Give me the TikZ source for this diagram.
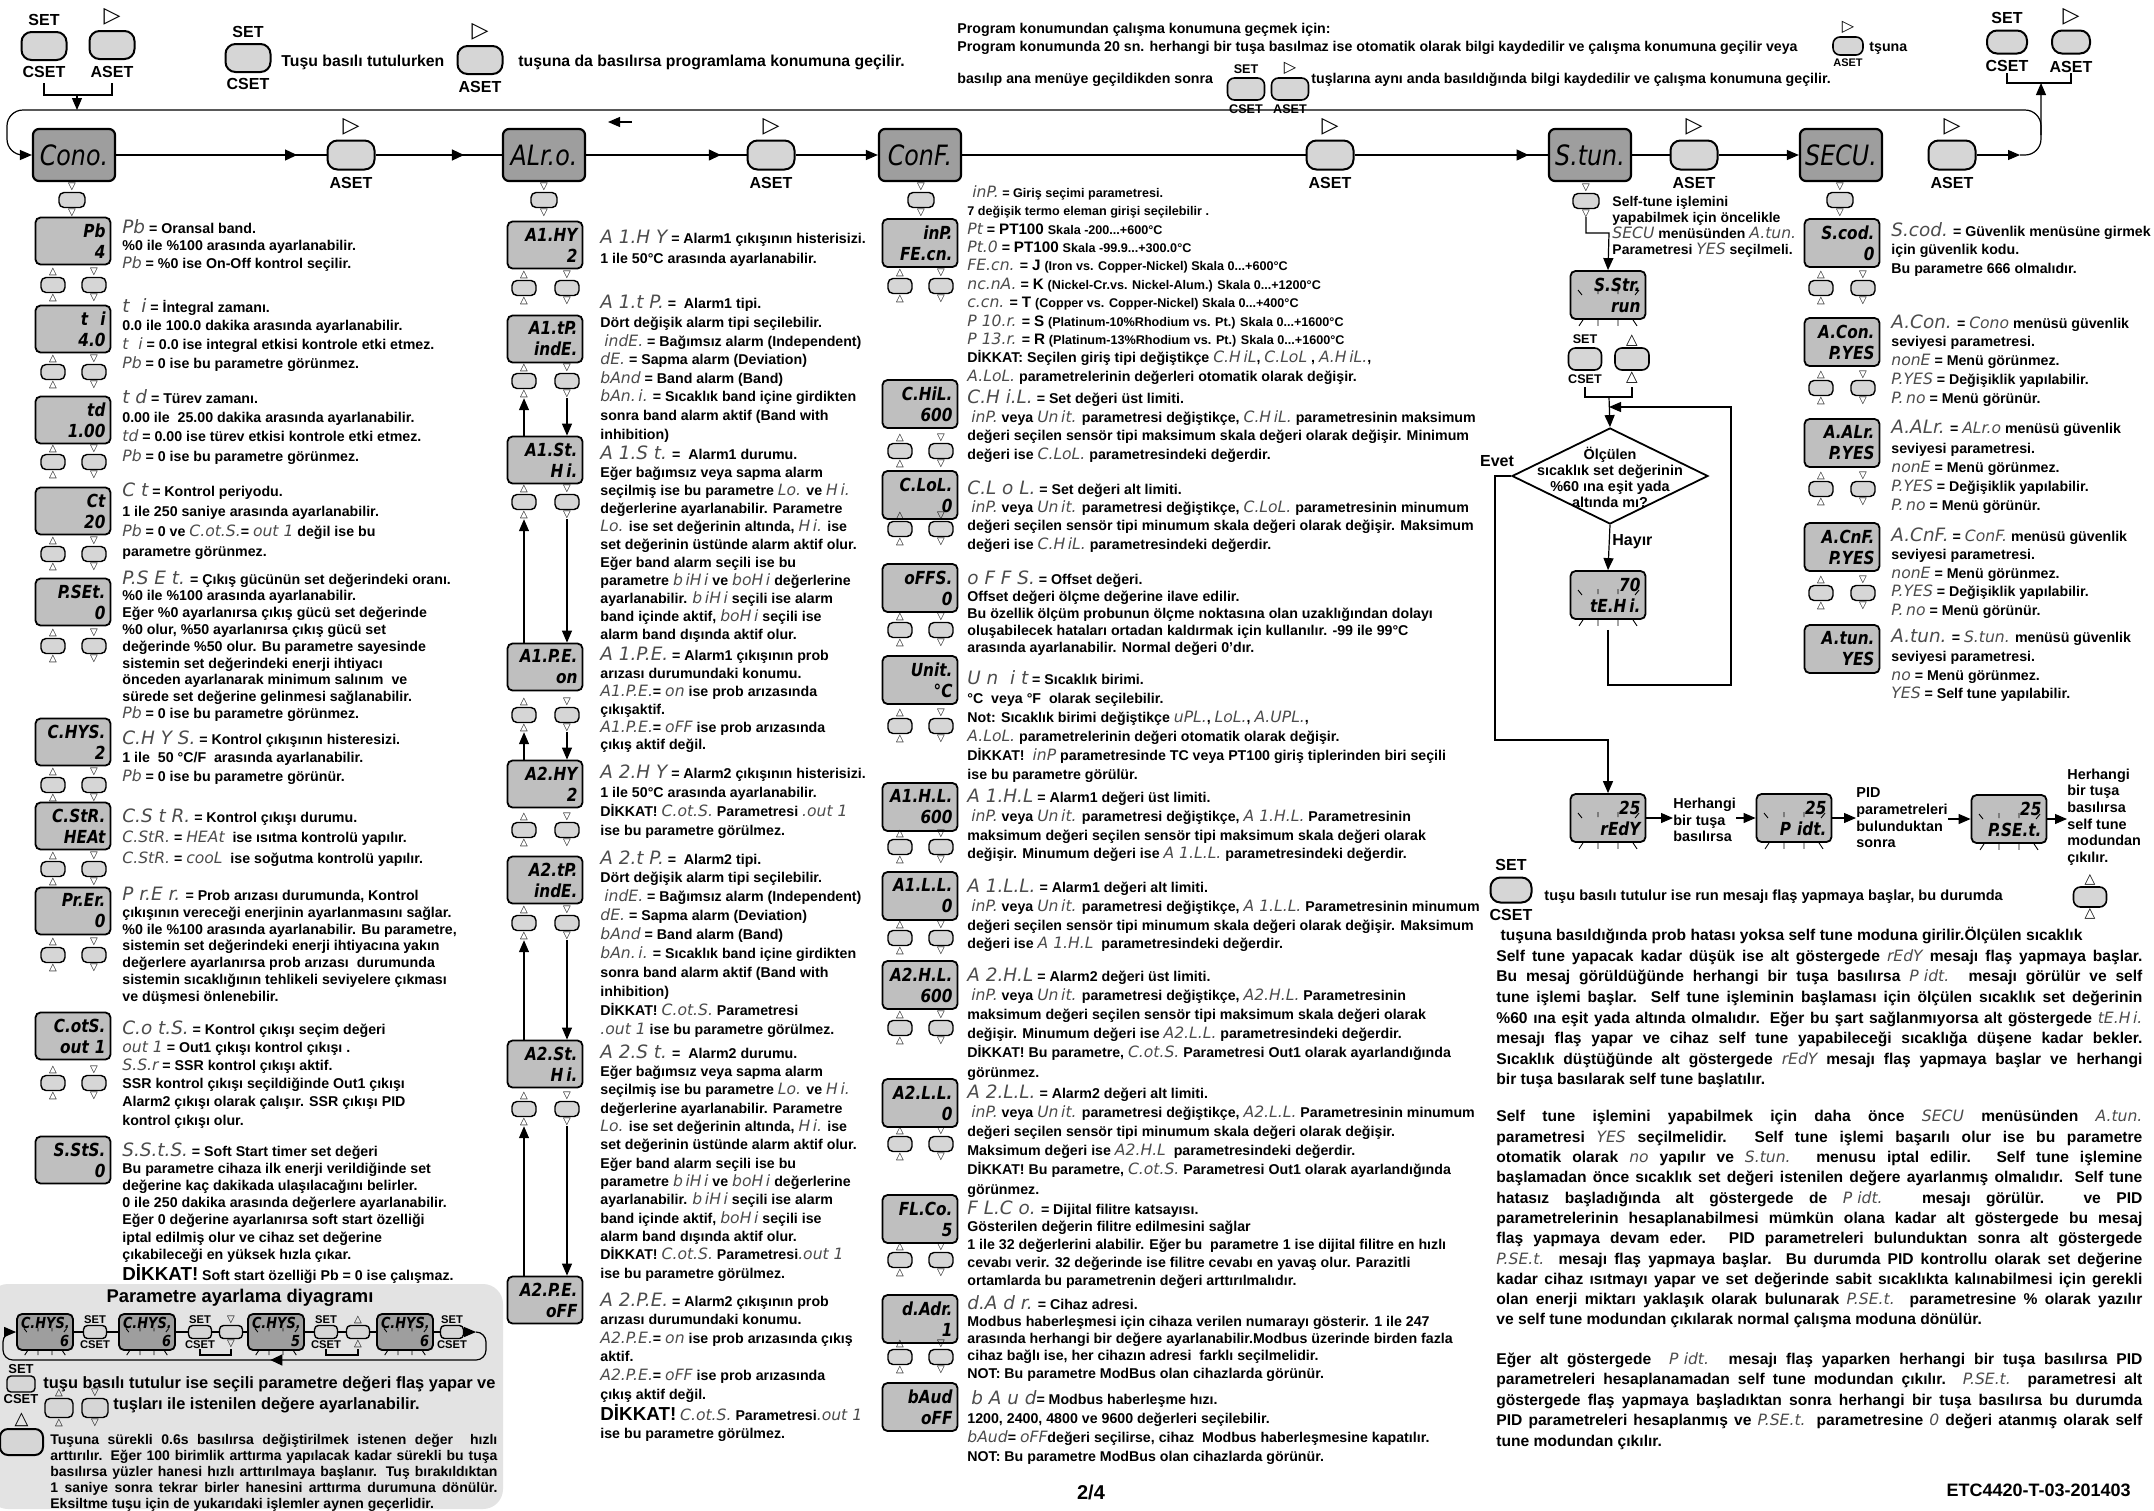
\documentclass[tikz,border=0pt]{standalone}
\usepackage{fontspec}
\setmainfont{Liberation Sans}
\newfontfamily\segfont{DejaVu Sans}
\newfontfamily\dispfont{DejaVu Sans}[FakeStretch=0.85]
\newfontfamily\symfont{DejaVu Sans}
\usetikzlibrary{arrows.meta,shapes.geometric,calc,decorations.markings}

\definecolor{menugray}{gray}{0.62}
\definecolor{dispgray}{gray}{0.75}
\definecolor{keygray}{gray}{0.84}
\definecolor{panelgray}{gray}{0.89}
\definecolor{segcol}{gray}{0.3}

% segment texts
\newcommand{\sg}[1]{{\segfont\mdseries\itshape\color{segcol}\fontsize{7.8}{8}\selectfont #1}}
\newcommand{\sgt}[1]{{\segfont\mdseries\itshape\color{segcol}\fontsize{9.2}{8}\selectfont #1}}
\newcommand{\DK}{{\fontsize{9.4}{8}\selectfont DİKKAT!}}
\newcommand{\sm}{\fontsize{6.3}{8}\selectfont}
\newcommand{\bg}{\fontsize{7.6}{8}\selectfont}
\newcommand{\jl}[1]{\makebox[323pt][s]{#1}}
\newcommand{\jp}[1]{\makebox[223.5pt][s]{#1}}
% flashing ticks round a display
\newcommand{\flash}[2]{%
  \draw[line width=0.45pt]
    ($(#1.center)+(-30*#2,-5*#2)$) -- ++(4*#2,5*#2)
    ($(#1.center)+(-10*#2,-6*#2)$) -- ++(0,5*#2)
    ($(#1.center)+(10*#2,-6*#2)$) -- ++(0,5*#2)
    ($(#1.center)+(31*#2,-5*#2)$) -- ++(-4*#2,5*#2)
    ($(#1.south)+(-25*#2,0)$) -- ++(-4*#2,6*#2)
    ($(#1.south)+(-10*#2,0)$) -- ++(0,6*#2)
    ($(#1.south)+(10*#2,0)$) -- ++(0,6*#2)
    ($(#1.south)+(25*#2,0)$) -- ++(4*#2,6*#2);}

\tikzset{
  flow/.style={line width=0.6pt},
  arr/.style={line width=0.6pt, -{Triangle[length=6pt,width=5pt]}},
  midarr/.style={postaction={decorate}, decoration={markings, mark=at position #1 with {\arrow{Triangle[length=6pt,width=5.5pt]}}}},
  menubox/.style={draw, line width=1.1pt, rounded corners=3pt, fill=menugray, minimum width=41pt, minimum height=26pt, inner sep=1pt, font=\dispfont\itshape\fontsize{14}{14}\selectfont},
  dispbox/.style={draw, line width=0.9pt, rounded corners=2.5pt, fill=dispgray, minimum height=23.5pt, text width=32.5pt, align=right, inner xsep=2.5pt, inner ysep=1pt, font=\dispfont\bfseries\itshape\fontsize{9}{10.5}\selectfont},
  keybox/.style={draw, line width=0.7pt, rounded corners=2.5pt, fill=keygray, minimum width=12pt, minimum height=7.5pt, inner sep=0pt},
  tri/.style={font=\symfont\fontsize{5}{5}\selectfont, inner sep=0.4pt},
  upkey/.style={keybox, label={[tri]above:△}, label={[tri]below:△}},
  dnkey/.style={keybox, label={[tri]above:▽}, label={[tri]below:▽}},
  bigkey/.style={draw, line width=1pt, rounded corners=5pt, fill=keygray, minimum width=23.5pt, minimum height=14.5pt, inner sep=0pt},
  lbl/.style={font=\bfseries\fontsize{#1}{#1}\selectfont, inner sep=0.5pt},
  play/.style={font=\symfont\fontsize{11}{11}\selectfont, inner sep=0.5pt},
  asetkey/.style={bigkey, label={[play, label distance=1.5pt]above:▷}, label={[lbl=8, label distance=2.5pt]below:ASET}},
  setkey/.style={bigkey, label={[lbl=8, label distance=2pt]above:SET}, label={[lbl=8, label distance=2pt]below:CSET}},
  ssetkey/.style={bigkey, line width=0.8pt, rounded corners=3.5pt, label={[lbl=6.3, label distance=1pt]above:SET}, label={[lbl=6.3, label distance=1pt]below:CSET}},
  sasetkey/.style={bigkey, line width=0.8pt, rounded corners=3.5pt, label={[play, font=\symfont\fontsize{8}{8}\selectfont, label distance=0.5pt]above:▷}, label={[lbl=#1, label distance=1pt]below:ASET}},
  sasetkey/.default=6.3,
  txt/.style={anchor=north west, inner sep=0pt, align=left, font=\fontsize{7.1}{#1}\selectfont\bfseries},
  txt/.default=8.8,
  pdisp/.style={dispbox, fill=menugray, minimum height=18pt, text width=24pt, inner xsep=2pt, font=\dispfont\bfseries\itshape\fontsize{7.6}{8.6}\selectfont},
  pkey/.style={keybox, minimum width=11.5pt, minimum height=6.5pt, rounded corners=2pt},
}

\begin{document}
\begin{tikzpicture}[x=0.5pt, y=-0.5pt]
\fill[white] (0,0) rectangle (2154,1511);
\useasboundingbox (0,0) rectangle (2154,1511);

% Pannello in basso a sinistra
\fill[panelgray, rounded corners=10pt] (-12,1284) rectangle (503,1509);

% Intestazione
\node[setkey, minimum width=22.5pt, minimum height=14pt] (hk1) at (44,46) {};
\node[asetkey, minimum width=22.5pt, minimum height=14pt] (hk2) at (112,45) {};
\node[setkey, minimum width=22.5pt, minimum height=14pt] (hk3) at (248,58) {};
\node[anchor=west, inner sep=0pt, font=\fontsize{7.9}{9}\selectfont\bfseries] (htxt1) at (281,62) {Tuşu basılı tutulurken};
\node[asetkey, minimum width=22.5pt, minimum height=14pt] (hk4) at (480,60) {};
\node[anchor=west, inner sep=0pt, font=\fontsize{7.9}{9}\selectfont\bfseries] (htxt2) at (518,62) {tuşuna da basılırsa programlama konumuna geçilir.};

\node[anchor=west, inner sep=0pt, font=\fontsize{7.1}{9}\selectfont\bfseries] (htxt3) at (957,30) {Program konumundan çalışma konumuna geçmek için:};
\node[anchor=west, inner sep=0pt, font=\fontsize{7.1}{9}\selectfont\bfseries] (htxt4) at (957,48) {Program konumunda 20 sn. herhangi bir tuşa basılmaz ise otomatik olarak bilgi kaydedilir ve çalışma konumuna geçilir veya};
\node[sasetkey=5.5, minimum width=15pt, minimum height=9pt] (hk5) at (1848,46) {};
\node[anchor=west, inner sep=0pt, font=\fontsize{7.1}{9}\selectfont\bfseries] (htxt5) at (1869,48) {tşuna};
\node[anchor=west, inner sep=0pt, font=\fontsize{7.1}{9}\selectfont\bfseries] (htxt6) at (957,80) {basılıp ana menüye geçildikden sonra};
\node[ssetkey, minimum width=18.5pt, minimum height=11pt] (hk6) at (1246,89) {};
\node[sasetkey, minimum width=18.5pt, minimum height=11pt] (hk7) at (1290,89) {};
\node[anchor=west, inner sep=0pt, font=\fontsize{7.1}{9}\selectfont\bfseries] (htxt7) at (1311,80) {tuşlarına aynı anda basıldığında bilgi kaydedilir ve çalışma konumuna geçilir.};
\node[setkey, minimum width=20pt, minimum height=11.5pt] (hk8) at (2007,42) {};
\node[asetkey, minimum width=19pt, minimum height=11.5pt] (hk9) at (2071,42) {};

% Menu
\node[menubox] (cono) at (74,155) {Cono.};
\node[menubox] (alro) at (544,155) {ALr.o.};
\node[menubox] (conf) at (920,155) {ConF.};
\node[menubox] (stun) at (1590,155) {S.tun.};
\node[menubox] (secu) at (1841,155) {SECU.};
\node[asetkey] (aset1) at (351,155) {};
\node[asetkey] (aset2) at (771,155) {};
\node[asetkey] (aset3) at (1330,155) {};
\node[asetkey] (aset4) at (1694,155) {};
\node[asetkey] (aset5) at (1952,155) {};

% Archi del menu
\draw[flow, midarr=0.86] (cono) -- (aset1);
\draw[flow, midarr=0.7] (aset1) -- (alro);
\draw[flow, midarr=0.84] (alro) -- (aset2);
\draw[arr] (aset2) -- (conf);
\draw[flow] (conf) -- (aset3);
\draw[flow, midarr=0.9] (aset3) -- (stun);
\draw[flow] (stun) -- (aset4);
\draw[arr] (aset4) -- (secu);
\coordinate (r1) at (2020,155);
\coordinate (brT2) at (2041,73);
\coordinate (brB2) at (2041,83);
\draw[arr] (aset5) -- (r1);
\draw[arr, rounded corners=8pt] (r1) -- (r1 -| brB2) -- (brB2);
\draw[flow] (hk8 |- brT2) -- (hk8 |- brB2) -- (hk9 |- brB2) -- (hk9 |- brT2);
\coordinate (jR) at (2041,135);
\coordinate (tR) at (2041,110);
\coordinate (tL) at (7,110);
\coordinate (bL) at (7,155);
\draw[arr, rounded corners=8pt] (jR) -- (tR) -- (tL) -- (bL) -- (cono.west);
\coordinate (brT) at (77,83);
\coordinate (brB) at (77,95);
\draw[flow] (hk1 |- brT) -- (hk1 |- brB) -- (hk2 |- brB) -- (hk2 |- brT);
\draw[arr] (brB) -- (brB |- tL);
\coordinate (la1) at (632,122);
\coordinate (la2) at (608,122);
\draw[arr] (la1) -- (la2);

% Tasti sotto i menu
\node[dnkey, minimum width=13pt] (ck) at (72,200) {};
\node[dnkey, minimum width=13pt] (ak) at (544,200) {};
\node[dnkey, minimum width=13pt] (fk) at (921,200) {};
\node[dnkey, minimum width=13pt] (stk) at (1586,201) {};
\node[dnkey, minimum width=13pt] (sck) at (1840,200) {};

% Colonna Cono
\foreach \nm/\yy/\dA/\dB in {pb/241/Pb/4, ti/329/t\ \ i/4.0, td/420/td/1.00, ct/511/Ct/20, pset/602/P.SEt./0, chys/742/C.HYS./2, cstr/826/C.StR./HEAt, prer/911/Pr.Er./0, cots/1036/C.otS./out 1, ssts/1160/S.StS./0}
  \node[dispbox] (\nm) at (73,\yy) {\dA\\\dB};
\foreach \yy [count=\i] in {285,372,462,554,646,785,869,955,1083} {
  \node[upkey] (c1u\i) at (53,\yy) {};
  \node[dnkey] (c1d\i) at (94,\yy) {};
}

\node[txt=8.75] (tpb) at (122,219) {\sgt{Pb} = Oransal band.\\\%0 ile \%100 arasında ayarlanabilir.\\\sg{Pb} = \%0 ise On-Off kontrol seçilir.};
\node[txt=9.3] (tti) at (122,298) {\sgt{t\ \ i} = İntegral zamanı.\\0.0 ile 100.0 dakika arasında ayarlanabilir.\\\sg{t\ \ i} = 0.0 ise integral etkisi kontrole etki etmez.\\\sg{Pb} = 0 ise bu parametre görünmez.};
\node[txt=9.65] (ttd) at (122,389) {\sgt{t d} = Türev zamanı.\\0.00 ile\ \ 25.00 dakika arasında ayarlanabilir.\\\sg{td} = 0.00 ise türev etkisi kontrole etki etmez.\\\sg{Pb} = 0 ise bu parametre görünmez.};
\node[txt=10] (tct) at (122,482) {\sgt{C t} = Kontrol periyodu.\\1 ile 250 saniye arasında ayarlanabilir.\\\sg{Pb} = 0 ve \sg{C.ot.S.}= \sg{out 1} değil ise bu\\parametre görünmez.};
\node[txt=8.4] (tpset) at (122,570) {\sgt{P.S E t.} = Çıkış gücünün set değerindeki oranı.\\\%0 ile \%100 arasında ayarlanabilir.\\Eğer \%0 ayarlanırsa çıkış gücü set değerinde\\\%0 olur, \%50 ayarlanırsa çıkış gücü set\\değerinde \%50 olur. Bu parametre sayesinde\\sistemin set değerindeki enerji ihtiyacı\\önceden ayarlanarak minimum salınım\ \ ve\\sürede set değerine gelinmesi sağlanabilir.\\\sg{Pb} = 0 ise bu parametre görünmez.};
\node[txt=9.25] (tchys) at (122,730) {\sgt{C.H Y S.} = Kontrol çıkışının histeresizi.\\1 ile\ \ 50 °C/F\ \ arasında ayarlanabilir.\\\sg{Pb} = 0 ise bu parametre görünür.};
\node[txt=10.25] (tcstr) at (122,808) {\sgt{C.S t R.} = Kontrol çıkışı durumu.\\\sg{C.StR.} = \sg{HEAt}\ \ ise ısıtma kontrolü yapılır.\\\sg{C.StR.} = \sg{cooL}\ \ ise soğutma kontrolü yapılır.};
\node[txt=8.35] (tprer) at (122,887) {\sgt{P r.E r.} = Prob arızası durumunda, Kontrol\\çıkışının vereceği enerjinin ayarlanmasını sağlar.\\\%0 ile \%100 arasında ayarlanabilir. Bu parametre,\\sistemin set değerindeki enerji ihtiyacına yakın\\değerlere ayarlanırsa prob arızası\ \ durumunda\\sistemin sıcaklığının tehlikeli seviyelere çıkması\\ve düşmesi önlenebilir.};
\node[txt=9.1] (tcots) at (122,1020) {\sgt{C.o t.S.} = Kontrol çıkışı seçim değeri\\\sg{out 1} = Out1 çıkışı kontrol çıkışı .\\\sg{S.S.r} = SSR kontrol çıkışı aktif.\\SSR kontrol çıkışı seçildiğinde Out1 çıkışı\\Alarm2 çıkışı olarak çalışır. SSR çıkışı PID\\kontrol çıkışı olur.};
\node[txt=8.6] (tssts) at (122,1142) {\sgt{S.S.t.S.} = Soft Start timer set değeri\\Bu parametre cihaza ilk enerji verildiğinde set\\değerine kaç dakikada ulaşılacağını belirler.\\0 ile 250 dakika arasında değerlere ayarlanabilir.\\Eğer 0 değerine ayarlanırsa soft start özelliği\\iptal edilmiş olur ve cihaz set değerine\\çıkabileceği en yüksek hızla çıkar.\\\DK{} Soft start özelliği Pb = 0 ise çalışmaz.};

% Colonna ALr.o
\foreach \nm/\yy/\dA/\dB in {a1hy/245/A1.HY/2, a1tp/339/A1.tP./indE., a1st/460/A1.St./H\,i., a1pe/667/A1.P.E./on, a2hy/784/A2.HY/2, a2tp/880/A2.tP./indE., a2st/1064/A2.St./H\,i., a2pe/1300/A2.P.E./oFF}
  \node[dispbox] (\nm) at (545,\yy) {\dA\\\dB};
\foreach \yy [count=\i] in {288,381,502,715,830,923,1109} {
  \node[upkey] (a2u\i) at (524,\yy) {};
  \node[dnkey] (a2d\i) at (567,\yy) {};
}
\foreach \k/\d in {2/a1st, 3/a1pe, 4/a2hy, 6/a2st, 7/a2pe} {
  \draw[arr] (\d.north -| a2u\k) -- ($(a2u\k.south)+(0,9)$);
  \draw[arr] ($(a2d\k.south)+(0,9)$) -- (\d.north -| a2d\k);
}

\node[txt=10] (ta1hy) at (600,230) {\sgt{A 1.H Y} = Alarm1 çıkışının histerisizi.\\1 ile 50°C arasında ayarlanabilir.};
\node[txt=9.3] (ta1tp) at (600,295) {\sgt{A 1.t P.} =\ \ Alarm1 tipi.\\Dört değişik alarm tipi seçilebilir.\\\ \sg{indE.} = Bağımsız alarm (Independent)\\\sg{dE.} = Sapma alarm (Deviation)\\\sg{bAnd} = Band alarm (Band)\\\sg{bAn.\,i.} = Sıcaklık band içine girdikten\\sonra band alarm aktif (Band with\\inhibition)};
\node[txt=9] (ta1st) at (600,445) {\sgt{A 1.S t.} =\ \ Alarm1 durumu.\\Eğer bağımsız veya sapma alarm\\seçilmiş ise bu parametre \sg{Lo.} ve \sg{H\,i.}\\değerlerine ayarlanabilir. Parametre\\\sg{Lo.} ise set değerinin altında, \sg{H\,i.} ise\\set değerinin üstünde alarm aktif olur.\\Eğer band alarm seçili ise bu\\parametre \sg{b\,iH\,i} ve \sg{boH\,i} değerlerine\\ayarlanabilir. \sg{b\,iH\,i} seçili ise alarm\\band içinde aktif, \sg{boH\,i} seçili ise\\alarm band dışında aktif olur.};
\node[txt=8.9] (ta1pe) at (600,647) {\sgt{A 1.P.E.} = Alarm1 çıkışının prob\\arızası durumundaki konumu.\\\sg{A1.P.E.}= \sg{on} ise prob arızasında\\çıkışaktif.\\\sg{A1.P.E.}= \sg{oFF} ise prob arızasında\\çıkış aktif değil.};
\node[txt=9.65] (ta2hy) at (600,764) {\sgt{A 2.H Y} = Alarm2 çıkışının histerisizi.\\1 ile 50°C arasında ayarlanabilir.\\DİKKAT! \sg{C.ot.S.} Parametresi \sg{.out 1}\\ise bu parametre görülmez.};
\node[txt=9.45] (ta2tp) at (600,850) {\sgt{A 2.t P.} =\ \ Alarm2 tipi.\\Dört değişik alarm tipi seçilebilir.\\\ \sg{indE.} = Bağımsız alarm (Independent)\\\sg{dE.} = Sapma alarm (Deviation)\\\sg{bAnd} = Band alarm (Band)\\\sg{bAn.\,i.} = Sıcaklık band içine girdikten\\sonra band alarm aktif (Band with\\inhibition)\\DİKKAT! \sg{C.ot.S.} Parametresi\\\sg{.out 1} ise bu parametre görülmez.};
\node[txt=9.17] (ta2st) at (600,1044) {\sgt{A 2.S t.} =\ \ Alarm2 durumu.\\Eğer bağımsız veya sapma alarm\\seçilmiş ise bu parametre \sg{Lo.} ve \sg{H\,i.}\\değerlerine ayarlanabilir. Parametre\\\sg{Lo.} ise set değerinin altında, \sg{H\,i.} ise\\set değerinin üstünde alarm aktif olur.\\Eğer band alarm seçili ise bu\\parametre \sg{b\,iH\,i} ve \sg{boH\,i} değerlerine\\ayarlanabilir. \sg{b\,iH\,i} seçili ise alarm\\band içinde aktif, \sg{boH\,i} seçili ise\\alarm band dışında aktif olur.\\DİKKAT! \sg{C.ot.S.} Parametresi\sg{.out 1}\\ise bu parametre görülmez.};
\node[txt=9.3] (ta2pe) at (600,1292) {\sgt{A 2.P.E.} = Alarm2 çıkışının prob\\arızası durumundaki konumu.\\\sg{A2.P.E.}= \sg{on} ise prob arızasında çıkış\\aktif.\\\sg{A2.P.E.}= \sg{oFF} ise prob arızasında\\çıkış aktif değil.\\\DK{} \sg{C.ot.S.} Parametresi\sg{.out 1}\\ise bu parametre görülmez.};

% Colonna ConF.
\foreach \nm/\yy/\dA/\dB in {inp/243/inP./FE.cn., chil/404/C.HiL./600, clol/495/C.LoL./0, offs/588/oFFS./0, unit/680/Unit./°C, a1hl/807/A1.H.L./600, a1ll/896/A1.L.L./0, a2hl/985/A2.H.L./600, a2ll/1103/A2.L.L./0, flco/1219/FL.Co./5, dadr/1319/d.Adr./1, baud/1407/bAud/oFF}
  \node[dispbox, minimum height=24pt] (\nm) at (920,\yy) {\dA\\\dB};
\foreach \yy [count=\i] in {286,451,529,630,726,847,938,1028,1144,1260,1357} {
  \node[upkey] (c3u\i) at (900,\yy) {};
  \node[dnkey] (c3d\i) at (941,\yy) {};
}

\node[txt=9.2] (tinp) at (967,185) {{\sm\sg{\ inP.} = Giriş seçimi parametresi.}\\{\sm 7 değişik termo eleman girişi seçilebilir .}\\\sg{Pt} = {\bg PT100} {\sm Skala -200...+600°C}\\\sg{Pt.0} = {\bg PT100} {\sm Skala -99.9...+300.0°C}\\\sg{FE.cn.} = {\bg J} {\sm (Iron vs. Copper-Nickel) Skala 0...+600°C}\\\sg{nc.nA.} = {\bg K} {\sm (Nickel-Cr.vs. Nickel-Alum.) Skala 0...+1200°C}\\\sg{c.cn.} = {\bg T} {\sm (Copper vs. Copper-Nickel) Skala 0...+400°C}\\\sg{P 10.r.} = {\bg S} {\sm (Platinum-10\%Rhodium vs. Pt.) Skala 0...+1600°C}\\\sg{P 13.r.} = {\bg R} {\sm (Platinum-13\%Rhodium vs. Pt.) Skala 0...+1600°C}\\DİKKAT: Seçilen giriş tipi değiştikçe \sg{C.H\,iL}, \sg{C.LoL} , \sg{A.H\,iL.},\\\sg{A.LoL.} parametrelerinin değerleri otomatik olarak değişir.};
\node[txt=9.33] (tchil) at (967,389) {\sgt{C.H\ i.L.} = Set değeri üst limiti.\\\ \sg{inP.} veya \sg{Un\,it.} parametresi değiştikçe, \sg{C.H\,iL.} parametresinin maksimum\\değeri seçilen sensör tipi maksimum skala değeri olarak değişir. Minimum\\değeri ise \sg{C.LoL.} parametresindeki değerdir.};
\node[txt=9.17] (tclol) at (967,480) {\sgt{C.L o L.} = Set değeri alt limiti.\\\ \sg{inP.} veya \sg{Un\,it.} parametresi değiştikçe, \sg{C.LoL.} parametresinin minumum\\değeri seçilen sensör tipi minumum skala değeri olarak değişir. Maksimum\\değeri ise \sg{C.H\,iL.} parametresindeki değerdir.};
\node[txt=8.6] (toffs) at (967,570) {\sgt{o F F S.} = Offset değeri.\\Offset değeri ölçme değerine ilave edilir.\\Bu özellik ölçüm probunun ölçme noktasına olan uzaklığından dolayı\\oluşabilecek hataları ortadan kaldırmak için kullanılır. -99 ile 99°C\\arasında ayarlanabilir. Normal değeri 0'dır.};
\node[txt=9.5] (tunit) at (967,670) {\sgt{U n\ \ i t} = Sıcaklık birimi.\\°C\ \ veya °F\ \ olarak seçilebilir.\\Not: Sıcaklık birimi değiştikçe \sg{uPL.}, \sg{LoL.}, \sg{A.UPL.},\\\sg{A.LoL.} parametrelerinin değeri otomatik olarak değişir.\\DİKKAT!\ \ \sg{inP} parametresinde TC veya PT100 giriş tiplerinden biri seçili\\ise bu parametre görülür.};
\node[txt=9.33] (ta1hl) at (967,789) {\sgt{A 1.H.L} = Alarm1 değeri üst limiti.\\\ \sg{inP.} veya \sg{Un\,it.} parametresi değiştikçe, \sg{A 1.H.L.} Parametresinin\\maksimum değeri seçilen sensör tipi maksimum skala değeri olarak\\değişir. Minumum değeri ise \sg{A 1.L.L.} parametresindeki değerdir.};
\node[txt=9.33] (ta1ll) at (967,879) {\sgt{A 1.L.L.} = Alarm1 değeri alt limiti.\\\ \sg{inP.} veya \sg{Un\,it.} parametresi değiştikçe, \sg{A 1.L.L.} Parametresinin minumum\\değeri seçilen sensör tipi minumum skala değeri olarak değişir. Maksimum\\değeri ise \sg{A 1.H.L}\ \ parametresindeki değerdir.};
\node[txt=9.6] (ta2hl) at (967,967) {\sgt{A 2.H.L} = Alarm2 değeri üst limiti.\\\ \sg{inP.} veya \sg{Un\,it.} parametresi değiştikçe, \sg{A2.H.L.} Parametresinin\\maksimum değeri seçilen sensör tipi maksimum skala değeri olarak\\değişir. Minumum değeri ise \sg{A2.L.L.} parametresindeki değerdir.\\DİKKAT! Bu parametre, \sg{C.ot.S.} Parametresi Out1 olarak ayarlandığında\\görünmez.};
\node[txt=9.6] (ta2ll) at (967,1084) {\sgt{A 2.L.L.} = Alarm2 değeri alt limiti.\\\ \sg{inP.} veya \sg{Un\,it.} parametresi değiştikçe, \sg{A2.L.L.} Parametresinin minumum\\değeri seçilen sensör tipi minumum skala değeri olarak değişir.\\Maksimum değeri ise \sg{A2.H.L}\ \ parametresindeki değerdir.\\DİKKAT! Bu parametre, \sg{C.ot.S.} Parametresi Out1 olarak ayarlandığında\\görünmez.};
\node[txt=8.9] (tflco) at (967,1200) {\sgt{F L.C o.} = Dijital filitre katsayısı.\\Gösterilen değerin filitre edilmesini sağlar\\1 ile 32 değerlerini alabilir. Eğer bu\ \ parametre 1 ise dijital filitre en hızlı\\cevabı verir. 32 değerinde ise filitre cevabı en yavaş olur. Parazitli\\ortamlarda bu parametrenin değeri arttırılmalıdır.};
\node[txt=8.6] (tdadr) at (967,1295) {\sgt{d.A d r.} = Cihaz adresi.\\Modbus haberleşmesi için cihaza verilen numarayı gösterir. 1 ile 247\\arasında herhangi bir değere ayarlanabilir.Modbus üzerinde birden fazla\\cihaz bağlı ise, her cihazın adresi\ \ farklı seçilmelidir.\\NOT: Bu parametre ModBus olan cihazlarda görünür.};
\node[txt=9.5] (tbaud) at (967,1390) {\ \sgt{b A u d}= Modbus haberleşme hızı.\\1200, 2400, 4800 ve 9600 değerleri seçilebilir.\\\sg{bAud}= \sg{oFF}değeri seçilirse, cihaz\ \ Modbus haberleşmesine kapatılır.\\NOT: Bu parametre ModBus olan cihazlarda görünür.};
\node[font=\fontsize{10}{10}\selectfont\bfseries] (page) at (1091,1492) {2/4};

% Colonna S.tun.
\node[dispbox, minimum height=24pt] (sstr) at (1608,295) {S.Str.\\run};
\coordinate (stj) at (1609,233);
\draw[arr] ($(stk.south)+(0,8)$) -- (stk |- stj) -- (stj) -- (sstr.north);
\node[txt=8, font=\fontsize{7}{8}\selectfont\bfseries] (tst) at (1612,196) {Self-tune işlemini\\yapabilmek için öncelikle\\\sg{SECU} menüsünden \sg{A.tun.}\\Parametresi \sg{YES} seçilmeli.};
\node[ssetkey, minimum width=16.5pt, minimum height=11pt] (sk) at (1585,359) {};
\node[bigkey, line width=0.8pt, rounded corners=3.5pt, minimum width=17pt, minimum height=11pt, label={[font=\symfont\fontsize{7.5}{7.5}\selectfont, inner sep=0.3pt]above:△}, label={[font=\symfont\fontsize{7.5}{7.5}\selectfont, inner sep=0.3pt]below:△}] (uk) at (1632,359) {};
\coordinate (brT3) at (1609,387);
\coordinate (brB3) at (1609,397);
\draw[flow] (sk |- brT3) -- (sk |- brB3) -- (uk |- brB3) -- (uk |- brT3);
\node[diamond, draw, line width=0.9pt, minimum width=98pt, minimum height=48pt, inner sep=0pt] (dia) at (1610,476) {};
\node[align=center, inner sep=0pt, font=\fontsize{7.2}{8}\selectfont\bfseries] (diat) at (1610,477) {Ölçülen\\sıcaklık set değerinin\\\%60 ına eşit yada\\altında mı?};
\draw[arr] (brB3) -- (dia.north);
\node[dispbox, minimum height=24pt] (tehi) at (1608,595) {70\\tE.H\,i.};
\draw[arr] (dia.south) -- (tehi.north);
\node[font=\fontsize{8}{8}\selectfont\bfseries, anchor=west, inner sep=0pt] (hay) at (1612,542) {Hayır};
\node[font=\fontsize{8}{8}\selectfont\bfseries, inner sep=0pt] (evet) at (1497,461) {Evet};
\coordinate (lp1) at (1731,685);
\coordinate (lp2) at (1731,407);
\draw[arr] ($(tehi.south)+(0,10)$) -- (tehi |- lp1) -- (lp1) -- (lp2) -- (lp2 -| brB3);
\node[dispbox, minimum height=24pt] (redy) at (1608,818) {25\\rEdY};
\node[dispbox, minimum height=24pt] (pidt) at (1794,818) {25\\P\,\,idt.};
\node[dispbox, minimum height=24pt] (pse) at (2009,819) {25\\P.SE.t.};
\coordinate (ev1) at (1495,476);
\coordinate (ev2) at (1495,740);
\draw[arr] (dia.west) -- (ev1) -- (ev2) -- (ev2 -| redy) -- (redy.north);
\node[txt=8.3, font=\fontsize{7.2}{8.3}\selectfont\bfseries, anchor=west] (h1) at (1673,820) {Herhangi\\bir tuşa\\basılırsa};
\node[txt=8.3, font=\fontsize{7.2}{8.3}\selectfont\bfseries, anchor=west] (h2) at (1856,818) {PID\\parametreleri\\bulunduktan\\sonra};
\node[txt=8.3, font=\fontsize{7.2}{8.3}\selectfont\bfseries, anchor=west] (h3) at (2067,817) {Herhangi\\bir tuşa\\basılırsa\\self tune\\modundan\\çıkılır.};
\draw[arr] (redy.east) -- (redy.east -| h1.west);
\draw[arr] (pidt.west -| h1.east) -- (pidt.west);
\draw[arr] (pidt.east) -- (pidt.east -| h2.west);
\draw[arr] (pse.west -| h2.east) -- (pse.west);
\draw[arr] (pse.east) -- (pse.east -| h3.west);
\foreach \d in {sstr,tehi,redy,pidt,pse} {\flash{\d}{1}}
\node[bigkey, line width=0.8pt, rounded corners=3.5pt, minimum width=16.5pt, minimum height=10pt, label={[font=\symfont\fontsize{7}{7}\selectfont, inner sep=0.3pt]above:△}, label={[font=\symfont\fontsize{7}{7}\selectfont, inner sep=0.3pt]below:△}] (uk2) at (2090,897) {};
\node[setkey, minimum width=20.5pt, minimum height=12.5pt] (sk2) at (1511,890) {};
\node[anchor=west, inner sep=0pt, font=\fontsize{7.3}{9}\selectfont\bfseries] (trun) at (1544,897) {tuşu basılı tutulur ise run mesajı flaş yapmaya başlar, bu durumda};

\node[txt=10.3, font=\fontsize{7.8}{10.3}\selectfont\bfseries] (par1) at (1496,927) {\ tuşuna basıldığında prob hatası yoksa self tune moduna girilir.Ölçülen sıcaklık\\\jl{Self tune yapacak kadar düşük ise alt göstergede \sg{rEdY} mesajı flaş yapmaya başlar.}\\\jl{Bu mesaj görüldüğünde herhangi bir tuşa basılırsa \sg{P\,\,idt.} mesajı görülür ve self}\\\jl{tune işlemi başlar. Self tune işleminin başlaması için ölçülen sıcaklık set değerinin}\\\jl{\%60 ına eşit yada altında olmalıdır. Eğer bu şart sağlanmıyorsa alt göstergede \sg{tE.H\,i.}}\\\jl{mesajı flaş yapar ve cihaz self tune yapabileceği sıcaklığa düşene kadar bekler.}\\\jl{Sıcaklık düştüğünde alt göstergede \sg{rEdY} mesajı flaş yapmaya başlar ve herhangi}\\bir tuşa basılarak self tune başlatılır.};
\node[txt=10.15, font=\fontsize{7.8}{10.15}\selectfont\bfseries] (par2) at (1496,1110) {\jl{Self tune işlemini yapabilmek için daha önce \sg{SECU} menüsünden \sg{A.tun.}}\\\jl{parametresi \sg{YES} seçilmelidir. Self tune işlemi başarılı olur ise bu parametre}\\\jl{otomatik olarak \sg{no} yapılır ve \sg{S.tun.} menusu iptal edilir. Self tune işlemine}\\\jl{başlamadan önce sıcaklık set değeri istenilen değere ayarlanmış olmalıdır. Self tune}\\\jl{hatasız başladığında alt göstergede de \sg{P\,\,idt.} mesajı görülür. ve PID}\\\jl{parametrelerinin hesaplanabilmesi mümkün olana kadar alt göstergede bu mesaj}\\\jl{flaş yapmaya devam eder. PID parametreleri bulunduktan sonra alt göstergede}\\\jl{\sg{P.SE.t.} mesajı flaş yapmaya başlar. Bu durumda PID kontrollu olarak set değerine}\\\jl{kadar cihaz ısıtmayı yapar ve set değerinde sabit sıcaklıkta kalınabilmesi için gerekli}\\\jl{olan enerji miktarı yaklaşık olarak bulunarak \sg{P.SE.t.} parametresine \% olarak yazılır}\\ve self tune modundan çıkılarak normal çalışma moduna dönülür.};
\node[txt=10.25, font=\fontsize{7.8}{10.25}\selectfont\bfseries] (par3) at (1496,1352) {\jl{Eğer alt göstergede\ \ \sg{P\,\,idt.} mesajı flaş yaparken herhangi bir tuşa basılırsa PID}\\\jl{parametreleri hesaplanamadan self tune modundan çıkılır. \sg{P.SE.t.} parametresi alt}\\\jl{göstergede flaş yapmaya başladıktan sonra herhangi bir tuşa basılırsa bu durumda}\\\jl{PID parametreleri hesaplanmış ve \sg{P.SE.t.} parametresine \sg{0} değeri atanmış olarak self}\\tune modundan çıkılır.};
\node[anchor=east, inner sep=0pt, font=\fontsize{9}{9}\selectfont\bfseries] (etc) at (2131,1490) {ETC4420-T-03-201403};

% Colonna SECU.
\foreach \nm/\yy/\dA/\dB in {scod/243/S.cod./0, acon/342/A.Con./P.YES, aalr/443/A.ALr./P.YES, acnf/547/A.CnF./P.YES, atun/649/A.tun./YES}
  \node[dispbox, minimum height=24pt] (\nm) at (1842,\yy) {\dA\\\dB};
\foreach \yy [count=\i] in {288,388,489,593} {
  \node[upkey] (c4u\i) at (1821,\yy) {};
  \node[dnkey] (c4d\i) at (1863,\yy) {};
}
\node[txt=9.25] (tscod) at (1891,222) {\sgt{S.cod.} = Güvenlik menüsüne girmek\\için güvenlik kodu.\\Bu parametre 666 olmalıdır.};
\node[txt=9.4] (tacon) at (1891,314) {\sgt{A.Con.} = \sg{Cono} menüsü güvenlik\\seviyesi parametresi.\\\sg{nonE} = Menü görünmez.\\\sg{P.YES} = Değişiklik yapılabilir.\\\sg{P.\,no} = Menü görünür.};
\node[txt=9.6] (taalr) at (1891,420) {\sgt{A.ALr.} = \sg{ALr.o} menüsü güvenlik\\seviyesi parametresi.\\\sg{nonE} = Menü görünmez.\\\sg{P.YES} = Değişiklik yapılabilir.\\\sg{P.\,no} = Menü görünür.};
\node[txt=9.25] (tacnf) at (1891,527) {\sgt{A.CnF.} = \sg{ConF.} menüsü güvenlik\\seviyesi parametresi.\\\sg{nonE} = Menü görünmez.\\\sg{P.YES} = Değişiklik yapılabilir.\\\sg{P.\,no} = Menü görünür.};
\node[txt=9.33] (tatun) at (1891,629) {\sgt{A.tun.} = \sg{S.tun.} menüsü güvenlik\\seviyesi parametresi.\\\sg{no} = Menü görünmez.\\\sg{YES} = Self tune yapılabilir.};

% Diagramma di impostazione
\node[font=\fontsize{9.2}{10}\selectfont\bfseries] (ptitle) at (240,1298) {Parametre ayarlama diyagramı};
\node[pdisp] (pd1) at (45,1332) {C.HYS.\\6};
\node[pdisp] (pd2) at (147,1332) {C.HYS.\\6};
\node[pdisp] (pd3) at (276,1332) {C.HYS.\\5};
\node[pdisp] (pd4) at (405,1332) {C.HYS.\\6};
\foreach \d in {pd1,pd2,pd3,pd4} {\flash{\d}{0.7}}
\node[pkey, label={[lbl=5.6]above:SET}, label={[lbl=5.6]below:CSET}] (ps1) at (95,1332) {};
\node[pkey, label={[lbl=5.6]above:SET}, label={[lbl=5.6]below:CSET}] (ps2) at (200,1332) {};
\node[pkey, label={[tri]above:▽}, label={[tri]below:▽}] (pdn) at (231,1332) {};
\node[pkey, label={[lbl=5.6]above:SET}, label={[lbl=5.6]below:CSET}] (ps3) at (326,1332) {};
\node[pkey, label={[tri]above:△}, label={[tri]below:△}] (pup) at (358,1332) {};
\node[pkey, label={[lbl=5.6]above:SET}, label={[lbl=5.6]below:CSET}] (ps4) at (452,1332) {};
\draw[flow] (pd1) -- (ps1) -- (pd2) -- (ps2) -- (pdn) -- (pd3) -- (ps3) -- (pup) -- (pd4) -- (ps4);
\coordinate (pr1) at (476,1332);
\coordinate (pr2) at (486,1360);
\coordinate (pl) at (3,1360);
\draw[arr] (ps4) -- (pr1);
\draw[arr, midarr=0.45, rounded corners=5pt] (pr1) -- (pr1 -| pr2) -- (pr2) -- (pl) -- (pl |- pd1) -- (pd1.west);
\draw[flow] ($(ps2)+(0,17)$) -- ($(ps2)+(0,23)$) -- ($(pdn)+(0,23)$) -- ($(pdn)+(0,17)$);
\draw[flow] ($(ps3)+(0,17)$) -- ($(ps3)+(0,23)$) -- ($(pup)+(0,23)$) -- ($(pup)+(0,17)$);
\node[pkey, minimum width=14pt, minimum height=8pt, label={[lbl=6.5]above:SET}, label={[lbl=6.5]below:CSET}] (pset0) at (21,1384) {};
\node[anchor=west, inner sep=0pt, font=\fontsize{8.2}{9}\selectfont\bfseries] (pt1) at (43,1384) {tuşu basılı tutulur ise seçili parametre değeri flaş yapar ve};
\node[upkey, minimum width=14pt, minimum height=9.5pt] (pu) at (59,1408) {};
\node[dnkey, minimum width=13pt, minimum height=9.5pt] (pdk) at (95,1408) {};
\node[anchor=west, inner sep=0pt, font=\fontsize{8.2}{9}\selectfont\bfseries] (pt2) at (113,1405) {tuşları ile istenilen değere ayarlanabilir.};
\node[keybox, line width=1pt, minimum width=21.5pt, minimum height=13pt, rounded corners=4pt, label={[font=\symfont\fontsize{9}{9}\selectfont, inner sep=0.5pt]above:△}] (pbig) at (21.5,1442) {};
\node[txt=8, font=\fontsize{7}{8}\selectfont\bfseries] (ppar) at (50,1434) {\jp{Tuşuna sürekli 0.6s basılırsa değiştirilmek istenen değer\ \ hızlı}\\\jp{arttırılır. Eğer 100 birimlik arttırma yapılacak kadar sürekli bu tuşa}\\\jp{basılırsa yüzler hanesi hızlı arttırılmaya başlanır. Tuş bırakıldıktan}\\\jp{1 saniye sonra tekrar birler hanesini arttırma durumuna dönülür.}\\Eksiltme tuşu için de yukarıdaki işlemler aynen geçerlidir.};
\end{tikzpicture}
\end{document}
